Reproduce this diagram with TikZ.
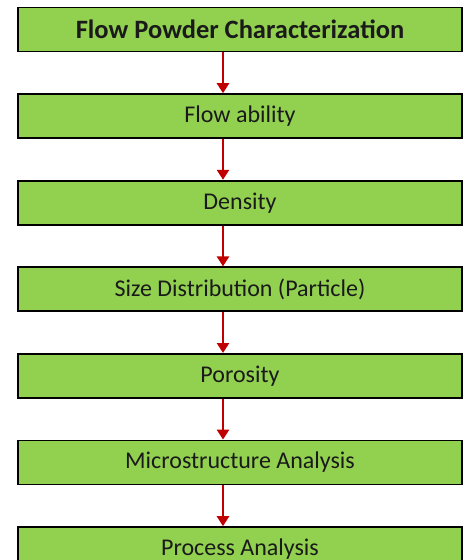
\documentclass[tikz,border=0pt]{standalone}
\usepackage{fontspec}
\setmainfont{Carlito}
\usetikzlibrary{arrows.meta,positioning}
\definecolor{boxgreen}{HTML}{92D050}
\definecolor{arrowred}{HTML}{C00000}
\definecolor{ink}{HTML}{1A1A1A}
\tikzset{
  figbase/.style={
    x=1pt, y=1pt,
    font=\fontsize{24}{28}\selectfont,
    node distance=40.8pt,
  },
  stagebox/.style={
    draw=black, line width=1.8pt,
    fill=boxgreen,
    text=ink,
    minimum width=444pt,
    minimum height=44pt,
    inner sep=0pt,
    align=center,
  },
  titlebox/.style={stagebox, font=\fontsize{26.5}{30}\bfseries\selectfont},
  flowarr/.style={-{Triangle[length=10pt,width=12pt]}, line width=2.8pt, draw=arrowred},
}

\begin{document}
\begin{tikzpicture}[figbase]
  \useasboundingbox (0,0) rectangle (464,-560);

  \node[titlebox] (char) at (240,-29.5) {Flow Powder Characterization};
  \node[stagebox, below=of char] (flow) {Flow ability};
  \node[stagebox, below=of flow] (dens) {Density};
  \node[stagebox, below=of dens] (size) {Size Distribution (Particle)};
  \node[stagebox, below=of size] (poro) {Porosity};
  \node[stagebox, below=of poro] (micro) {Microstructure Analysis};
  \node[stagebox, below=of micro] (proc) {Process Analysis};

  % arrows sit a bit left of the box centre
  \foreach \a/\b in {char/flow, flow/dens, dens/size, size/poro, poro/micro, micro/proc}
    \draw[flowarr] ([xshift=-17pt]\a.south) -- ([xshift=-17pt]\b.north);
\end{tikzpicture}
\end{document}
